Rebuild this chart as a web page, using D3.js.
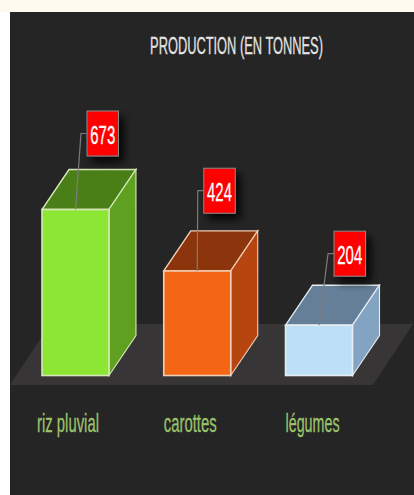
<!DOCTYPE html>
<html lang="fr">
<head>
<meta charset="utf-8">
<title>Production (en tonnes)</title>
<script src="https://cdn.jsdelivr.net/npm/d3@7/dist/d3.min.js"></script>
<style>
  html, body { margin: 0; padding: 0; background: #ffffff; }
  svg { display: block; }
  text { font-family: "Liberation Sans Narrow", "Liberation Sans", sans-serif; }
</style>
</head>
<body>
<script>
// Production figures by crop
const categories = ["riz pluvial", "carottes", "légumes"];
const values = [673, 424, 204];
const title = "PRODUCTION (EN TONNES)";

// Face colours of each box
const frontColors = ["#8de534", "#f56614", "#bde0f8"];
const topColors = ["#4a7f18", "#8c340b", "#667f98"];
const sideColors = ["#5fa021", "#b64510", "#82a3c2"];
const edgeColors = ["#d6e8b8", "#f0cdb4", "#e6edf2"];

// Tag placement relative to the top-left corner of each box
const tagDx = [45, 40, 48.5];
const tagDy = [98.5, 102.7, 94];
const nameWidths = [62, 53, 54];

const width = 414, height = 495;
const baseline = 375.5;
const depthX = 27, depthY = 40;

const svg = d3.select("body").append("svg")
  .attr("width", width).attr("height", height);

const shadow = svg.append("defs").append("filter").attr("id", "boxShadow")
  .attr("x", "-50%").attr("y", "-50%").attr("width", "220%").attr("height", "220%");
shadow.append("feDropShadow")
  .attr("dx", 5).attr("dy", 6).attr("stdDeviation", 4)
  .attr("flood-color", "#000").attr("flood-opacity", 0.85);

// Page and dark panel
svg.append("rect").attr("width", width).attr("height", 12).attr("fill", "#fffaf0");
svg.append("rect").attr("x", 10).attr("y", 12)
  .attr("width", width - 10).attr("height", height - 12).attr("fill", "#252525");

const x = d3.scaleBand().domain(categories).range([42, 352.5]).paddingInner(0.45).paddingOuter(0);
const y = d3.scaleLinear().domain([0, 673]).range([baseline, 209.5]);

const poly = pts => d3.line()(pts) + "Z";

// Squeezes a text horizontally so it fills the given width
function fitWidth(sel, px, py, target, anchorMiddle) {
  const w = sel.node().getComputedTextLength();
  const k = target / w;
  sel.attr("transform", `translate(${px},${py}) scale(${k},1)`)
    .attr("text-anchor", anchorMiddle ? "middle" : "start");
}

// Floor the columns stand on
svg.append("path")
  .attr("d", poly([[10, 385], [373, 385], [413, 324], [50, 324]]))
  .attr("fill", "#383536");

svg.append("text")
  .attr("font-size", 24).attr("fill", "#e4e4e4")
  .attr("stroke", "#e4e4e4").attr("stroke-width", 0.3)
  .text(title)
  .call(fitWidth, 236.5, 54, 173, true);

const bars = svg.selectAll("g.bar")
  .data(categories.map((c, i) => ({ c, i, v: values[i] })))
  .join("g").attr("class", "bar");

bars.each(function (d) {
  const g = d3.select(this);
  const x0 = x(d.c), x1 = x0 + x.bandwidth();
  const yTop = y(d.v);
  const stroke = edgeColors[d.i];

  // Inside of the open box, seen from above
  g.append("path")
    .attr("d", poly([[x0, yTop], [x1, yTop], [x1 + depthX, yTop - depthY], [x0 + depthX, yTop - depthY]]))
    .attr("fill", topColors[d.i]).attr("stroke", stroke).attr("stroke-width", 1.4);
  g.append("path")
    .attr("d", poly([[x1, yTop], [x1 + depthX, yTop - depthY], [x1 + depthX, baseline - depthY], [x1, baseline]]))
    .attr("fill", sideColors[d.i]).attr("stroke", stroke).attr("stroke-width", 1.1);
  g.append("rect")
    .attr("x", x0).attr("y", yTop)
    .attr("width", x1 - x0).attr("height", baseline - yTop)
    .attr("fill", frontColors[d.i]).attr("stroke", stroke).attr("stroke-width", 1.6);
});

// Tags are drawn last so their shadows fall over the boxes behind them
bars.each(function (d) {
  const g = d3.select(this);
  const x0 = x(d.c), x1 = x0 + x.bandwidth();
  const yTop = y(d.v);
  const boxW = 31.5, boxH = 45;
  const bx = x0 + tagDx[d.i];
  const by = yTop - tagDy[d.i];
  const midY = by + boxH / 2;

  g.append("path")
    .attr("d", d3.line()([[bx, midY], [bx - 6, midY], [(x0 + x1) / 2, yTop]]))
    .attr("fill", "none").attr("stroke", "#7c7c7c").attr("stroke-width", 1.2);
  g.append("rect")
    .attr("x", bx).attr("y", by).attr("width", boxW).attr("height", boxH)
    .attr("fill", "#fe0000").attr("stroke", "#8a8a8a").attr("stroke-width", 1)
    .attr("filter", "url(#boxShadow)");
  g.append("text")
    .attr("font-size", 26).attr("fill", "#ffffff")
    .attr("stroke", "#ffffff").attr("stroke-width", 0.3)
    .text(d.v)
    .call(fitWidth, bx + boxW / 2, midY + 10, 25, true);

  // Category name below the floor
  g.append("text")
    .attr("font-size", 25).attr("fill", "#9bc36b")
    .attr("stroke", "#9bc36b").attr("stroke-width", 0.3)
    .text(d.c)
    .call(fitWidth, d.i === 0 ? x0 - 5 : x0, 431.5, nameWidths[d.i], false);
});
</script>
</body>
</html>
